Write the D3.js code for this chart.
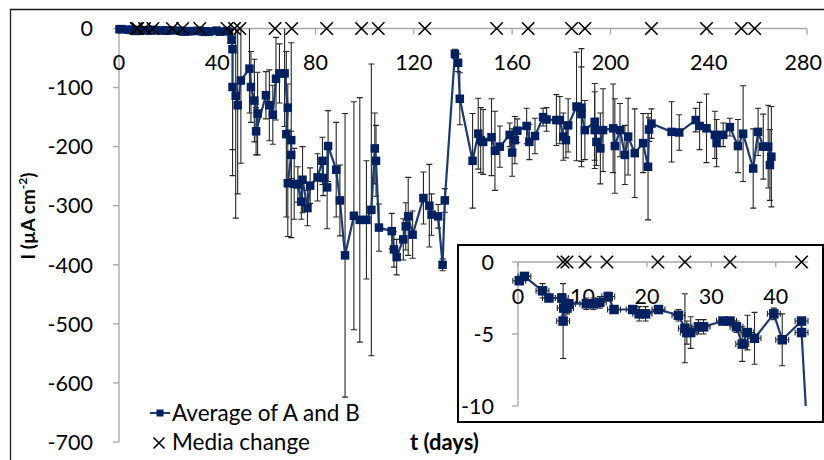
<!DOCTYPE html>
<html><head><meta charset="utf-8">
<script src="https://cdn.jsdelivr.net/npm/d3@7"></script>
<style>
body{margin:0;background:#fff}
svg{display:block}
text{font-family:Lato,"Open Sans",sans-serif;fill:#000}
</style>
</head><body>
<svg id="chart" width="824" height="460"></svg>
<script>
// ---- data ----
const days = [0.2,1.0,3.8,4.8,6.8,7.0,7.1,7.6,7.9,10.6,11.7,12.7,14.0,14.9,17.8,18.8,19.8,21.8,24.9,25.9,26.2,26.8,28.0,28.8,31.8,32.9,33.9,34.8,35.6,36.7,39.7,41.0,44.0,44.0,
  45.8,46.2,46.2,47.5,48.3,49.6,53.1,53.7,55.1,56.4,55.8,59.8,61.2,62.6,63.9,65.3,67.4,68.7,68.1,70.1,70.1,68.7,71.3,72.8,74.2,74.7,76.7,77.8,80.8,82.8,83.1,84.7,85.1,88.4,89.9,
  92.0,95.6,98.0,100.7,102.7,104.1,104.6,105.8,111.0,111.9,113.0,115.7,116.7,117.7,119.5,123.9,126.3,127.2,129.9,131.7,132.6,136.7,138.0,138.7,143.9,146.2,147.2,148.2,
  151.6,153.0,155.0,159.0,160.0,161.1,162.1,165.9,167.0,169.3,172.6,174.0,178.0,179.4,180.8,181.9,182.8,186.2,188.2,188.2,189.6,193.6,193.6,194.3,195.9,197.0,
  201.1,201.8,203.9,205.9,207.2,209.9,213.3,215.3,215.7,216.7,224.9,228.0,234.7,236.3,239.1,242.5,243.2,245.9,248.6,251.9,254.0,258.1,260.1,262.2,264.2,265.5,264.9];
const current = [-1.3,-1.0,-2.0,-2.5,-2.5,-4.1,-3.2,-3.2,-2.9,-2.9,-2.9,-2.8,-2.4,-3.3,-3.3,-3.6,-3.6,-3.3,-3.7,-4.6,-4.9,-4.9,-4.5,-4.5,-4.1,-4.1,-4.5,-5.7,-4.9,-5.3,-3.6,-5.4,-4.1,-4.9,
  -19,-35,-99,-114,-130,-88,-68,-99,-122,-144,-174,-113,-130,-146,-85,-76,-76,-134,-179,-189,-214,-262,-263,-264,-293,-256,-304,-266,-252,-224,-253,-269,-199,-239,-291,
  -384,-317,-324,-324,-307,-203,-224,-337,-343,-374,-387,-357,-335,-318,-349,-287,-300,-315,-318,-400,-291,-43,-58,-119,-224,-178,-189,-192,
  -184,-207,-200,-180,-210,-189,-173,-165,-192,-182,-150,-154,-155,-155,-183,-189,-164,-132,-134,-145,-172,-158,-172,-192,-203,-172,
  -169,-199,-172,-214,-183,-211,-194,-234,-171,-161,-175,-176,-155,-165,-169,-180,-194,-180,-167,-199,-178,-237,-175,-200,-200,-217,-231];
const errY = [0.2,0.2,0.5,0.2,0.3,2.6,0.5,0.4,0.3,0.4,0.4,0.4,0.3,0.2,0.2,0.5,0.5,0.2,0.4,2.4,0.8,1.1,0.5,0.5,0.2,0.2,0.4,1.2,1.2,1.8,0.4,1.8,0.1,0.1,
  20,170,150,207,150,140,75,60,70,70,40,40,60,50,70,50,90,40,140,165,40,90,60,30,30,56,30,30,40,40,30,70,60,80,60,
  240,193,207,100,247,60,60,40,30,30,30,35,40,66,40,44,70,35,20,10,20,8,15,44,80,60,55,55,
  65,67,35,20,40,40,20,30,30,30,15,20,43,40,40,30,45,92,100,80,50,65,65,40,60,70,
  75,80,45,50,65,75,50,90,20,25,51,30,20,40,58,40,40,20,15,45,81,67,40,55,70,85,60];
const errXDays = 1;
const mediaDays = [7.0,7.6,10.4,13.8,21.7,25.9,32.9,44.0,47.0,49.2,63.5,70.3,84.5,98.7,105.5,124.5,153.7,166.5,184.2,189.6,216.7,239.1,253.3,258.7];
const xTicksMain = [0,40,80,120,160,200,240,280];
const yTicksMain = [0,-100,-200,-300,-400,-500,-600,-700];
const xTicksInset = [0,10,20,30,40];
const yTicksInset = [0,-5,-10];

// ---- styles ----
const NAVY = "#002060", LINE = "#1c3a6e", AXIS = "#a6a6a6";
const svg = d3.select("#chart");
const pts = days.map((d,i)=>({x:d,y:current[i],e:errY[i]}));

// outer chart frame
svg.append("path").attr("d","M10.5,470 V9.5 H830").attr("fill","none").attr("stroke","#1a1a1a").attr("stroke-width",1.3);

function xMark(g, cx, cy, r){
  g.append("path").attr("d",`M${cx-r},${cy-r}L${cx+r},${cy+r}M${cx-r},${cy+r}L${cx+r},${cy-r}`)
   .attr("stroke","#000").attr("stroke-width",1.6).attr("fill","none");
}

function drawPanel(g, x, y, opts){
  const [x0,x1] = x.range(), [yTop,yBot] = [y(0), y.range()[1]];
  g.append("line").attr("x1",x0).attr("x2",x1).attr("y1",y(0)).attr("y2",y(0)).attr("stroke",AXIS).attr("stroke-width",1.3);
  g.append("line").attr("x1",x0).attr("x2",x0).attr("y1",yTop).attr("y2",yBot).attr("stroke",AXIS).attr("stroke-width",1.3);
  opts.xTicks.forEach(t=>{
    g.append("line").attr("x1",x(t)).attr("x2",x(t)).attr("y1",y(0)).attr("y2",y(0)+opts.tick).attr("stroke",AXIS).attr("stroke-width",1.3);
    const lbl = g.append("text").attr("x",x(t)).attr("y",opts.xLabY).attr("text-anchor","middle").attr("font-size",opts.fs).text(t);
    const bb = lbl.node().getBBox();
    if (bb.x + bb.width > 822) lbl.attr("text-anchor","end").attr("x",822);
  });
  opts.yTicks.forEach(t=>{
    g.append("line").attr("x1",x0-6).attr("x2",x0).attr("y1",y(t)).attr("y2",y(t)).attr("stroke",AXIS).attr("stroke-width",1.3);
    g.append("text").attr("x",opts.yLabX).attr("y",y(t)).attr("dy","0.36em").attr("text-anchor","end").attr("font-size",opts.fs).text(t);
  });
  g.append("clipPath").attr("id",opts.id+"c").append("rect")
    .attr("x",opts.clip[0]).attr("y",opts.clip[1]).attr("width",opts.clip[2]).attr("height",opts.clip[3]);
  g.append("clipPath").attr("id",opts.id+"b").append("rect")
    .attr("x",opts.clip[0]).attr("y",y(0)).attr("width",opts.clip[2]).attr("height",yBot-y(0)+40);
  const eb = g.append("g").attr("clip-path",`url(#${opts.id}b)`).attr("stroke","#262626").attr("stroke-width",1.1).attr("fill","none");
  pts.forEach(p=>{
    const cx=x(p.x), a=y(p.y+p.e), b=y(p.y-p.e);
    eb.append("path").attr("d",`M${cx},${a}V${b}M${cx-3},${a}H${cx+3}M${cx-3},${b}H${cx+3}`);
    const l=x(p.x-errXDays), r=x(p.x+errXDays), cy=y(p.y);
    eb.append("path").attr("d",`M${l},${cy}H${r}M${l},${cy-3}V${cy+3}M${r},${cy-3}V${cy+3}`);
  });
  const dg = g.append("g").attr("clip-path",`url(#${opts.id}c)`);
  dg.append("path").datum(pts).attr("fill","none").attr("stroke",LINE).attr("stroke-width",2.2)
    .attr("stroke-linejoin","round")
    .attr("d",d3.line().x(p=>x(p.x)).y(p=>y(p.y)));
  const s = opts.ms;
  dg.selectAll("rect.m").data(pts).enter().append("rect")
    .attr("x",p=>x(p.x)-s/2).attr("y",p=>y(p.y)-s/2).attr("width",s).attr("height",s)
    .attr("fill",NAVY);
  mediaDays.filter(d=>d<=x.domain()[1]).forEach(d=>xMark(g, x(d), y(0), 6.2));
}

// ---- main chart ----
const xMain = d3.scaleLinear().domain([0,280]).range([119,807]);
const yMain = d3.scaleLinear().domain([0,-700]).range([28.5,442]);
drawPanel(svg.append("g"), xMain, yMain, {id:"m", xTicks:xTicksMain, yTicks:yTicksMain, tick:6, fs:21.5,
  xLabY:70, yLabX:93, clip:[0,0,824,460], ms:8.5});

// axis titles
svg.append("text").attr("transform","translate(35,216) rotate(-90)").attr("text-anchor","middle")
  .attr("font-size",19).attr("font-weight","bold")
  .call(t=>{t.append("tspan").text("I (µA cm");
            t.append("tspan").attr("font-size",12).attr("dy",-8).text("-2");
            t.append("tspan").attr("dy",8).text(")");});
svg.append("text").attr("x",410).attr("y",450).attr("font-size",22).attr("font-weight","bold").text("t (days)");

// legend
svg.append("line").attr("x1",150).attr("x2",170).attr("y1",413).attr("y2",413).attr("stroke",LINE).attr("stroke-width",2);
svg.append("rect").attr("x",156.5).attr("y",409.5).attr("width",7).attr("height",7).attr("fill",NAVY);
svg.append("text").attr("x",172).attr("y",421).attr("font-size",22.5).text("Average of A and B");
xMark(svg, 159, 443, 5.5);
svg.append("text").attr("x",172).attr("y",450).attr("font-size",22.5).text("Media change");

// ---- inset ----
svg.append("rect").attr("x",458).attr("y",245).attr("width",365).attr("height",177)
  .attr("fill","#fff").attr("stroke","#000").attr("stroke-width",2);
const xIn = d3.scaleLinear().domain([0,45]).range([518,808]);
const yIn = d3.scaleLinear().domain([0,-10]).range([262,406]);
drawPanel(svg.append("g"), xIn, yIn, {id:"i", xTicks:xTicksInset, yTicks:yTicksInset, tick:5, fs:21.5,
  xLabY:304, yLabX:494, clip:[460,247,350,159], ms:9.5});
</script>
</body></html>
